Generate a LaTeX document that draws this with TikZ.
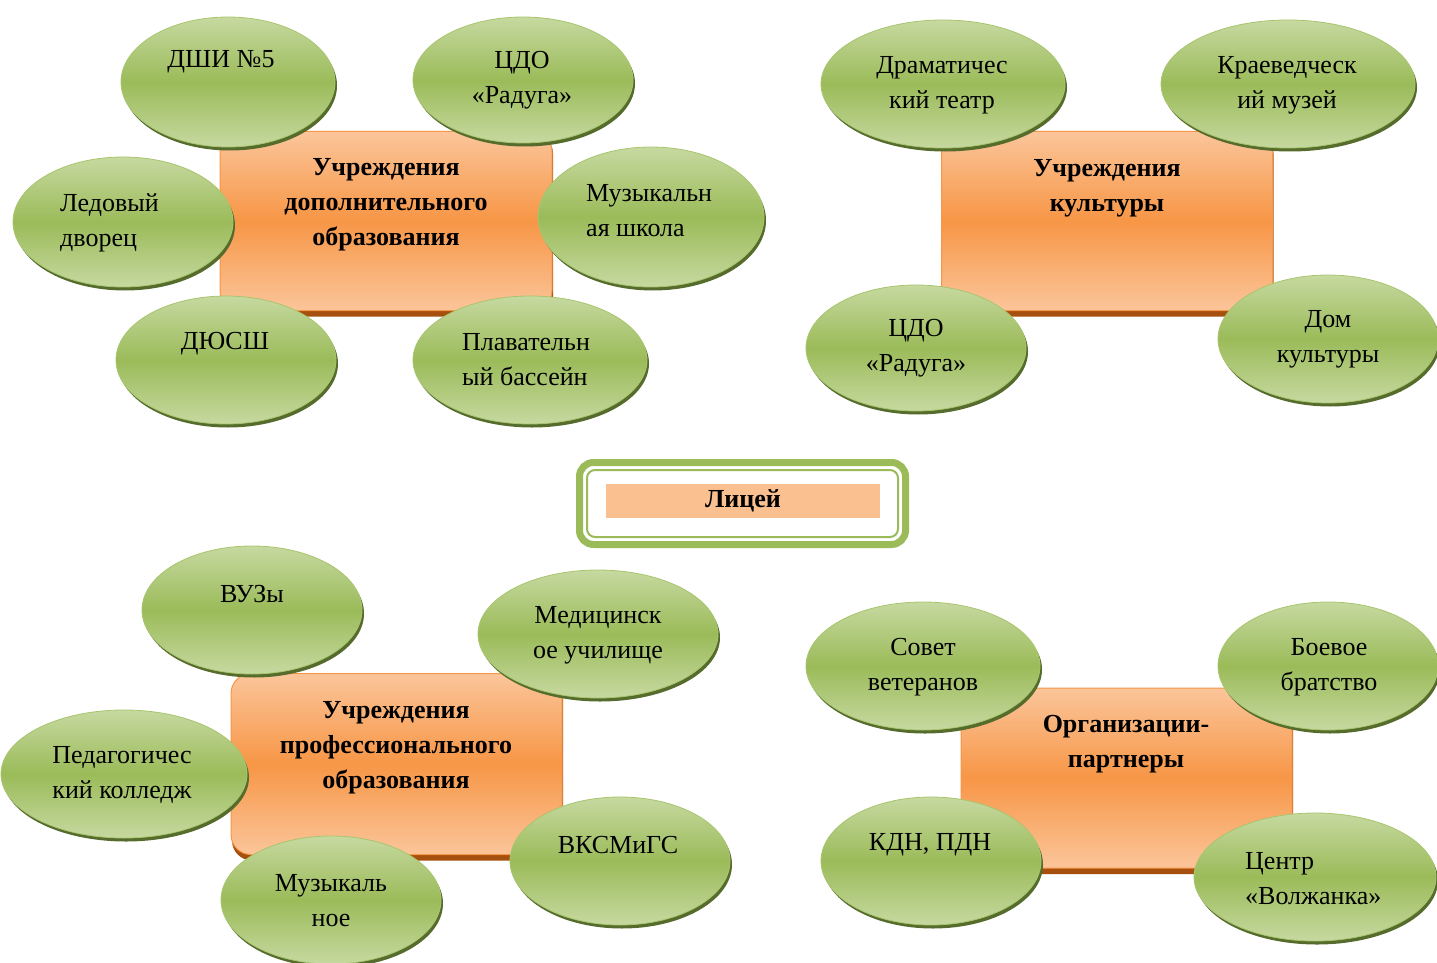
\documentclass[tikz,border=0pt]{standalone}
\usepackage{fontspec}
\setmainfont{Liberation Serif}
\usetikzlibrary{shapes.geometric}
\definecolor{gLight}{HTML}{C6D9A0}
\definecolor{gMid}{HTML}{9BBB59}
\definecolor{gEdge}{HTML}{A8C56E}
\definecolor{gDark}{HTML}{566C2C}
\definecolor{oLight}{HTML}{FBC59A}
\definecolor{oMid}{HTML}{F79646}
\definecolor{oDark}{HTML}{A5500E}
\definecolor{oFill}{HTML}{FAC090}
\tikzset{
  bub/.style={ellipse, draw=gEdge, line width=0.8pt, top color=gLight, bottom color=gLight, middle color=gMid, inner sep=0pt},
  bubshadow/.style={ellipse, fill=gDark, inner sep=0pt},
  obox/.style={rectangle, rounded corners=20pt, draw=oMid, line width=1pt, top color=oLight, bottom color=oLight, middle color=oMid, inner sep=0pt},
  oshadow/.style={rectangle, rounded corners=20pt, fill=oDark, inner sep=0pt},
  txt/.style={font=\fontsize{26}{35}\selectfont, align=center, inner sep=0pt},
  ltxt/.style={txt, align=left, anchor=west},
  btxt/.style={font=\fontsize{26}{35}\selectfont\bfseries, align=center, inner sep=0pt},
}
\newcommand\mybubble[5]{%
  \node[bubshadow, minimum width={2*#4pt}, minimum height={2*#5pt}] (#1s) at (#2+2,#3+3.5) {};
  \node[bub, minimum width={2*#4pt}, minimum height={2*#5pt}] (#1) at (#2,#3) {};
}
\newcommand\myorect[5]{%
  \node[oshadow, minimum width={#4pt}, minimum height={#5pt}] (#1s) at (#2+1,#3+4) {};
  \node[obox, minimum width={#4pt}, minimum height={#5pt-4pt}] (#1) at (#2,#3) {};
}
\begin{document}
\begin{tikzpicture}[x=1pt,y=-1pt]
\useasboundingbox (0,0) rectangle (1437,963);
% ---------- group 1
\myorect{r1}{386}{221}{332}{183}
\node[btxt] (r1t) at (386,205) {Учреждения\\дополнительного\\образования};
\mybubble{e11}{228}{82}{107}{65}
\node[txt] (e11t) at (221,62) {ДШИ №5};
\mybubble{e12}{523}{80}{110}{63}
\node[txt] (e12t) at (522,80) {ЦДО\\«Радуга»};
\mybubble{e13}{123}{222}{110}{65}
\node[ltxt] (e13t) at (60,223) {Ледовый\\дворец};
\mybubble{e14}{651}{217}{113}{70}
\node[ltxt] (e14t) at (586,211) {Музыкальн\\ая школа};
\mybubble{e15}{226}{360}{110}{64}
\node[txt] (e15t) at (225,344) {ДЮСШ};
\mybubble{e16}{530}{360}{117}{64}
\node[ltxt] (e16t) at (462,360) {Плавательн\\ый бассейн};
% ---------- group 2
\myorect{r2}{1107}{221}{331}{183}
\node[btxt] (r2t) at (1107,188) {Учреждения\\культуры};
\mybubble{e21}{943}{84}{122}{64}
\node[txt] (e21t) at (942,85) {Драматичес\\кий театр};
\mybubble{e22}{1288}{84}{127}{64}
\node[txt] (e22t) at (1287,85) {Краеведческ\\ий музей};
\mybubble{e23}{916}{348}{110}{63}
\node[txt] (e23t) at (916,348) {ЦДО\\«Радуга»};
\mybubble{e24}{1328}{339}{110}{64}
\node[txt] (e24t) at (1328,339) {Дом\\культуры};
% ---------- center
\node[draw=gMid, line width=7pt, rounded corners=14pt, minimum width=326pt, minimum height=82pt, inner sep=0pt] (lo) at (742.5,503.5) {};
\node[draw=gMid, line width=2pt, rounded corners=8pt, minimum width=311pt, minimum height=67pt, inner sep=0pt] (li) at (742.5,503.5) {};
\node[fill=oFill, minimum width=274pt, minimum height=34pt, inner sep=0pt, font=\fontsize{26}{35}\selectfont\bfseries] (lyc) at (743,501) {Лицей};
% ---------- group 3
\myorect{r3}{396.5}{764}{331}{185}
\node[btxt] (r3t) at (396,748) {Учреждения\\профессионального\\образования};
\mybubble{e31}{252}{610}{110}{64}
\node[txt] (e31t) at (252,594) {ВУЗы};
\mybubble{e32}{598}{634}{120}{64}
\node[txt] (e32t) at (598,635) {Медицинск\\ое училище};
\mybubble{e33}{124}{774}{123}{64}
\node[txt] (e33t) at (122,775) {Педагогичес\\кий колледж};
\mybubble{e34}{620}{861}{110}{64}
\node[txt] (e34t) at (618,845) {ВКСМиГС};
\mybubble{e35}{331}{900}{110}{64}
\node[txt] (e35t) at (331,901) {Музыкаль\\ное};
% ---------- group 4
\myorect{r4}{1126.5}{778}{331}{184}
\node[btxt] (r4t) at (1126,744) {Организации-\\партнеры};
\mybubble{e41}{923}{666}{117}{64}
\node[txt] (e41t) at (923,667) {Совет\\ветеранов};
\mybubble{e42}{1328}{666}{110}{64}
\node[txt] (e42t) at (1329,667) {Боевое\\братство};
\mybubble{e43}{931}{861}{110}{64}
\node[txt] (e43t) at (930,845) {КДН, ПДН};
\mybubble{e44}{1315}{877}{121}{64}
\node[ltxt] (e44t) at (1245,879) {Центр\\«Волжанка»};
\end{tikzpicture}
\end{document}
